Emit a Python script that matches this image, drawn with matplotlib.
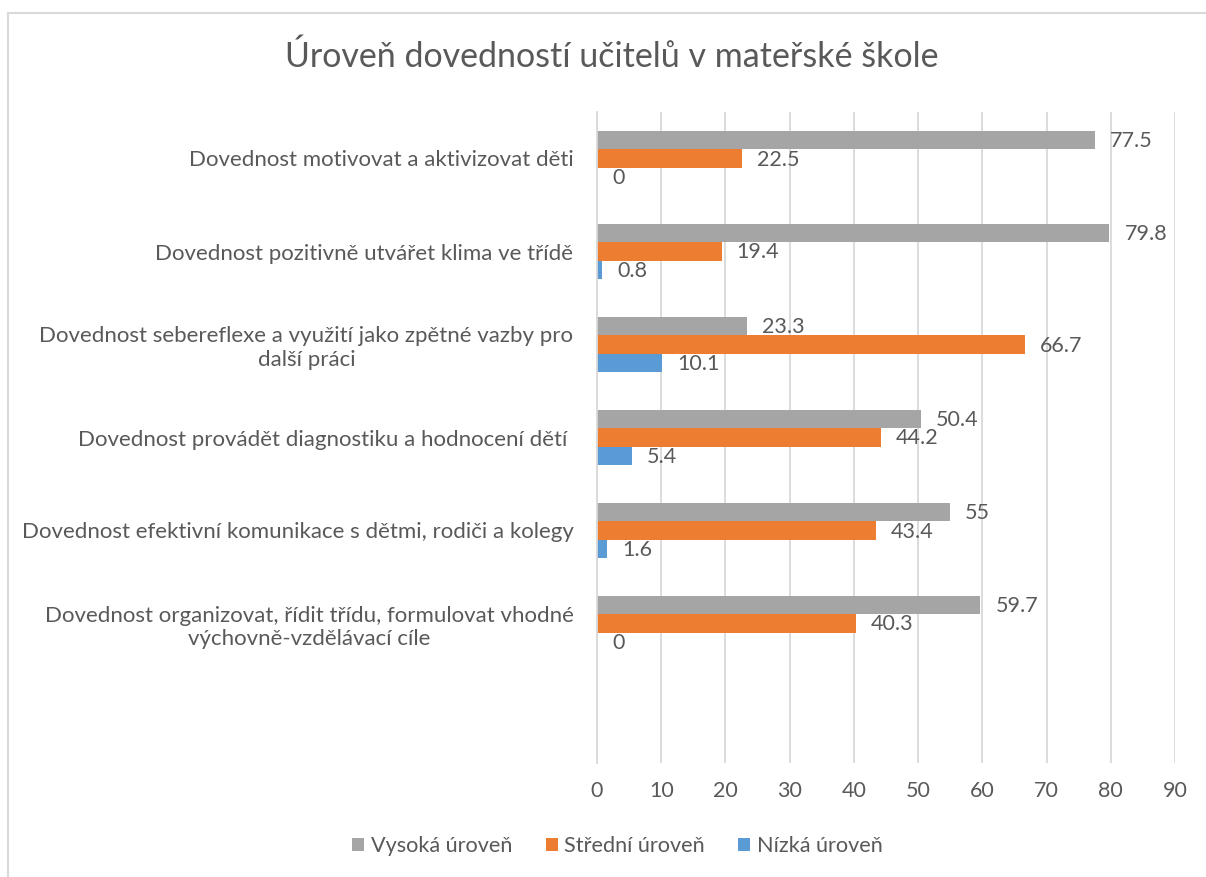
import matplotlib
matplotlib.use("Agg")
import matplotlib.pyplot as plt
import numpy as np
from matplotlib.lines import Line2D
from matplotlib.patches import Patch

plt.rcParams["font.family"] = ["Lato", "DejaVu Sans"]

TEXT = "#595959"
GRID = "#D9D9D9"

categories = [
    "Dovednost motivovat a aktivizovat děti",
    "Dovednost pozitivně utvářet klima ve třídě",
    "Dovednost sebereflexe a využití jako zpětné vazby pro\ndalší práci",
    "Dovednost provádět diagnostiku a hodnocení dětí ",
    "Dovednost efektivní komunikace s dětmi, rodiči a kolegy",
    "Dovednost organizovat, řídit třídu, formulovat vhodné\nvýchovně-vzdělávací cíle",
]
vysoka = [77.5, 79.8, 23.3, 50.4, 55, 59.7]
stredni = [22.5, 19.4, 66.7, 44.2, 43.4, 40.3]
nizka = [0, 0.8, 10.1, 5.4, 1.6, 0]
series = [
    ("Vysoká úroveň", vysoka, "#A5A5A5"),
    ("Střední úroveň", stredni, "#ED7D31"),
    ("Nízká úroveň", nizka, "#5B9BD5"),
]

W, H = 1206, 877
fig = plt.figure(figsize=(W / 100, H / 100), dpi=100)
ax = fig.add_axes([597 / W, 1 - 763 / H, (1175 - 597) / W, (763 - 112) / H])

y = np.arange(len(categories))
bh = 0.2
for i, (name, vals, color) in enumerate(series):
    pos = y + (i - 1) * bh
    ax.barh(pos, vals, height=bh, color=color, label=name)
    for p, v in zip(pos, vals):
        ax.annotate(f"{v:g}", xy=(v, p), xytext=(15, -1), textcoords="offset pixels",
                    ha="left", va="center", fontsize=15.5, color=TEXT)

ax.set_xlim(0, 90)
ax.set_ylim(len(categories) + 0.5, -0.5)
ax.set_xticks(np.arange(0, 91, 10))
ax.set_yticks(y)
ax.set_yticklabels(categories, multialignment="center")
ax.tick_params(axis="x", length=0, pad=13, labelsize=15.5, labelcolor=TEXT)
ax.tick_params(axis="y", length=0, pad=17, labelsize=16, labelcolor=TEXT)
ax.grid(True, axis="x", color=GRID, linewidth=1.3)
ax.set_axisbelow(True)
for s in ["top", "right", "bottom"]:
    ax.spines[s].set_visible(False)
ax.spines["left"].set_color(GRID)
ax.spines["left"].set_linewidth(1.3)

fig.text(0.507, 1 - 57 / H, "Úroveň dovedností učitelů v mateřské škole",
         ha="center", va="center", fontsize=24.5, color=TEXT)

handles = [Patch(facecolor=c, label=n) for n, _, c in series]
fig.legend(handles=handles, loc="center", bbox_to_anchor=(0.512, 1 - 846 / H),
           ncol=3, frameon=False, fontsize=15.6, labelcolor=TEXT,
           handlelength=0.55, handleheight=0.55, handletextpad=0.3, columnspacing=1.55)

# chart area border (top and left visible in the crop)
fig.add_artist(Line2D([8 / W, 8 / W], [0, 1 - 13 / H], color=GRID, linewidth=1.5,
                      transform=fig.transFigure))
fig.add_artist(Line2D([8 / W, 1], [1 - 13 / H, 1 - 13 / H], color=GRID, linewidth=1.5,
                      transform=fig.transFigure))

fig.savefig("out.png", dpi=100)
